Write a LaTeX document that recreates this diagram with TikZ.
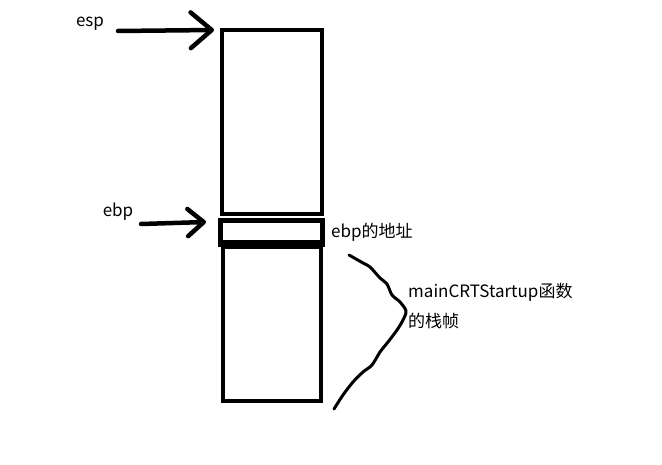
\documentclass[tikz,border=0pt]{standalone}
\usepackage{fontspec}
\setmainfont{Noto Sans CJK SC}
\usetikzlibrary{arrows.meta}

\begin{document}
\begin{tikzpicture}[x=1pt, y=-1pt,
    slot/.style={draw, line width=4pt, inner sep=0pt, minimum width=#1},
    label/.style={font=\fontsize{17}{30}\selectfont, inner sep=0pt, align=left},
    handarrow/.style={line width=4.5pt, line cap=round, line join=round,
      -{Straight Barb[length=#1, width=1.7*#1, round]}}]
%%% stack of the caller %%%

      \useasboundingbox (0,0) rectangle (662,465);

      %% frames
      \node[slot=100pt, minimum height=184pt] (frame) at (272,122) {};
      \node[slot=102pt, minimum height=22pt, line width=4.5pt] (saved) at (271.5,231.5) {};
      \node[slot=98pt, minimum height=154pt] (crt) at (272,324) {};
      \draw[line width=5.5pt] (saved.south west) -- (saved.south east);

      %% esp
      \node[label, anchor=base] (esp) at (90,27) {esp};
      \coordinate (espfoot) at (118,31);
      \coordinate (esptip) at (214,30);
      \draw[handarrow=21pt] (espfoot) -- (esptip);

      %% ebp
      \node[label, anchor=base] (ebp) at (118,217) {ebp};
      \coordinate (ebpfoot) at (141,224);
      \coordinate (ebptip) at (206,222);
      \draw[handarrow=16pt] (ebpfoot) -- (ebptip);

      \node[label, anchor=west] (addr) at (331,232) {ebp的地址};

      %% brace round the frame
      \draw[line width=3pt, line cap=round, line join=round]
        plot[smooth] coordinates {(349,255) (363,263) (370,267) (380,278) (387,284)
          (392,295) (400,302) (406,311) (403,320) (397,330) (388,342) (380,352)
          (372,365) (363,372) (353,382) (343,395) (334,409)};
      \node[label, anchor=north west] (crtlabel) at (408,283)
        { mainCRTStartup函数 \\ 的栈帧 };

\end{tikzpicture}
\end{document}
